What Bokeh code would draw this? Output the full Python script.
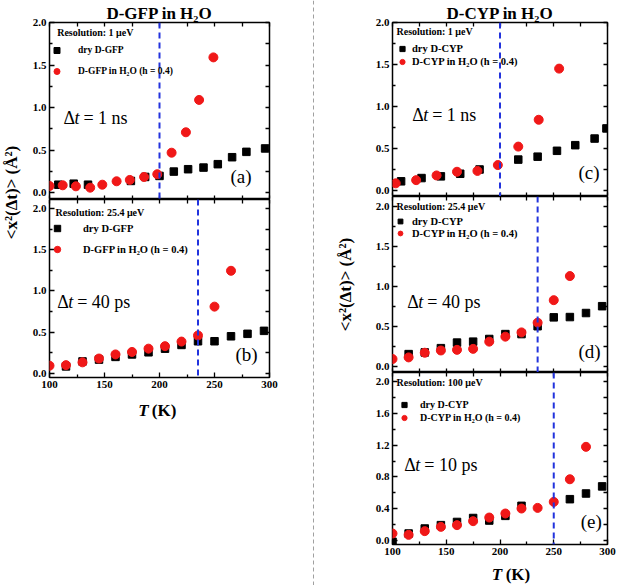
import numpy as np
from bokeh.plotting import figure
from bokeh.models import (Range1d, LinearAxis, FixedTicker, PrintfTickFormatter, Span,
                          Label, Legend, LegendItem)
from bokeh.layouts import row, column
from bokeh.embed import file_html
from bokeh.resources import INLINE
from bokeh.core.properties import value

FONT = "Liberation Serif"
RED = "#f01818"
BLUE = "#2233dd"

# ---------------- data ----------------
x_ticks = [100, 150, 200, 250, 300]
x_minor = [125, 175, 225, 275]
y_ticks_std = [0.0, 0.5, 1.0, 1.5, 2.0]
y_minor_std = [0.25, 0.75, 1.25, 1.75]
y_ticks_e = [0.0, 0.4, 0.8, 1.2, 1.6, 2.0]
y_minor_e = [0.2, 0.6, 1.0, 1.4, 1.8]

# (a) D-GFP, 1 ns
a_dry_T = [108, 122, 135, 174, 187, 200, 213, 226, 240, 253, 266, 279, 296]
a_dry_y = [0.094, 0.106, 0.094, 0.138, 0.185, 0.197, 0.248, 0.276, 0.295, 0.335, 0.417, 0.48, 0.52]
a_wet_T = [100, 112, 124, 137, 148, 161, 173, 186, 198, 211, 224, 236, 249]
a_wet_y = [0.079, 0.087, 0.075, 0.059, 0.094, 0.134, 0.15, 0.185, 0.217, 0.47, 0.71, 1.09, 1.59]

# (b) D-GFP, 40 ps
b_dry_T = [115, 130, 145, 160, 175, 190, 205, 220, 235, 250, 265, 280, 295]
b_dry_y = [0.085, 0.145, 0.167, 0.20, 0.23, 0.256, 0.30, 0.345, 0.39, 0.39, 0.45, 0.48, 0.516]
b_wet_T = [100, 115, 130, 145, 160, 175, 190, 205, 220, 235, 250, 265]
b_wet_y = [0.093, 0.10, 0.134, 0.18, 0.23, 0.26, 0.30, 0.33, 0.386, 0.46, 0.81, 1.245]

# (c) D-CYP, 1 ns
c_dry_T = [108, 127, 145, 163, 181, 217, 235, 253, 270, 288, 299]
c_dry_y = [0.106, 0.145, 0.165, 0.196, 0.247, 0.365, 0.40, 0.47, 0.537, 0.616, 0.737]
c_wet_T = [103, 122, 141, 160, 179, 198, 217, 236, 255]
c_wet_y = [0.082, 0.12, 0.176, 0.22, 0.23, 0.30, 0.52, 0.84, 1.45]

# (d) D-CYP, 40 ps
d_dry_T = [115, 130, 145, 160, 175, 190, 205, 220, 235, 250, 265, 280, 295]
d_dry_y = [0.159, 0.18, 0.233, 0.302, 0.314, 0.347, 0.408, 0.408, 0.506, 0.616, 0.62, 0.67, 0.755]
d_wet_T = [100, 115, 130, 145, 160, 175, 190, 205, 220, 235, 250, 265]
d_wet_y = [0.098, 0.118, 0.176, 0.204, 0.212, 0.224, 0.314, 0.376, 0.429, 0.55, 0.83, 1.13]

# (e) D-CYP, 10 ps
e_dry_T = [100, 115, 130, 145, 160, 175, 190, 205, 220, 265, 280, 295]
e_dry_y = [-0.02, 0.084, 0.147, 0.19, 0.23, 0.28, 0.248, 0.307, 0.434, 0.518, 0.59, 0.68]
e_wet_T = [100, 115, 130, 145, 160, 175, 190, 205, 220, 235, 250, 265, 280]
e_wet_y = [0.084, 0.067, 0.114, 0.168, 0.19, 0.24, 0.286, 0.337, 0.40, 0.408, 0.484, 0.77, 1.18]

transition_T = {"a": 200, "b": 235, "c": 200, "d": 235, "e": 250}

gfp_labels = ["dry D-GFP", "D-GFP in H\u2082O (h = 0.4)"]
cyp_labels = ["dry D-CYP", "D-CYP in H\u2082O (h = 0.4)"]
titles = ["D-GFP in H\u2082O", "D-CYP in H\u2082O"]


def blank(w, h, xr, yr):
    f = figure(width=w, height=h, x_range=Range1d(*xr), y_range=Range1d(*yr),
               output_backend="svg", toolbar_location=None,
               x_axis_location=None, y_axis_location=None, min_border=0,
               outline_line_color=None, background_fill_color="white",
               border_fill_color="white")
    f.grid.visible = False
    return f


def txt(f, x, y, s, size, style="bold", align="center", angle=0.0):
    f.text(x=[x], y=[y], text=[s], angle=angle, text_font=value(FONT),
           text_font_style=style, text_font_size=size, text_align=align,
           text_baseline="middle", text_color="black")


def lab(p, x, y, s, size, style="normal", x_offset=0):
    p.add_layout(Label(x=x, y=y, x_offset=x_offset, text=s, text_font=FONT,
                       text_font_style=style, text_font_size=size,
                       text_baseline="middle", text_align="left", text_color="black"))


def make_panel(width, height, ml, mr, mt, mb, yr, yticks, yminor, dryT, dryY, wetT, wetY,
               vline, labels, legcfg, res, dt, tag, xlabels, title=None):
    kw = {}
    if title:
        kw["title"] = title
    p = figure(width=width, height=height, x_range=Range1d(100, 300), y_range=Range1d(*yr),
               output_backend="svg", toolbar_location=None,
               x_axis_location=None, y_axis_location=None,
               min_border_left=ml, min_border_right=mr, min_border_top=mt,
               min_border_bottom=mb, outline_line_color="black", outline_line_width=1.5,
               background_fill_color="white", border_fill_color="white", **kw)
    if title:
        p.title.align = "center"
        p.title.text_font = FONT
        p.title.text_font_style = "bold"
        p.title.text_font_size = "17px"
        p.title.text_color = "black"
        p.title.standoff = 0
    p.grid.visible = False
    for place in ["left", "right", "below", "above"]:
        labelled = (place == "left") or (place == "below" and xlabels)
        if place in ("left", "right"):
            major, minor = yticks, yminor
        else:
            major, minor = x_ticks, x_minor
        if labelled:
            tk = FixedTicker(ticks=major, minor_ticks=minor)
        else:
            tk = FixedTicker(ticks=[], minor_ticks=sorted(major + minor))
        ax = LinearAxis(ticker=tk, axis_line_color=None, major_tick_in=5, major_tick_out=0,
                        minor_tick_in=4 if not labelled else 3, minor_tick_out=0,
                        major_tick_line_width=1.3, minor_tick_line_width=1.3,
                        major_tick_line_color="black", minor_tick_line_color="black",
                        major_label_standoff=3 if labelled else 0)
        if labelled:
            ax.formatter = PrintfTickFormatter(format="%.1f" if place == "left" else "%d")
            ax.major_label_text_font = FONT
            ax.major_label_text_font_style = "bold"
            ax.major_label_text_font_size = "11px"
            ax.major_label_text_color = "black"
        p.add_layout(ax, place)

    r1 = p.scatter(dryT, dryY, marker="square", size=7.5, fill_color="black", line_color="black")
    r2 = p.scatter(wetT, wetY, marker="circle", size=9, fill_color=RED, line_color=RED)
    p.add_layout(Span(location=vline, dimension="height", line_color=BLUE,
                      line_dash="6 4", line_width=2))

    gw, gh, ls, lt, sp, fs = legcfg
    frame_h = height - mb - mt
    vy = frame_h - lt - (2 * gh + sp)
    leg = Legend(items=[LegendItem(label=labels[0], renderers=[r1]),
                        LegendItem(label=labels[1], renderers=[r2])],
                 location=(0, vy), padding=0, margin=0, spacing=sp,
                 glyph_width=gw, glyph_height=gh, label_height=gh, label_standoff=ls,
                 label_text_font=FONT, label_text_font_style="bold",
                 label_text_font_size=fs, label_text_color="black",
                 background_fill_alpha=0, border_line_color=None)
    p.add_layout(leg)

    lab(p, res[0], res[1], res[2], "10px", "bold")
    lab(p, dt[0], dt[1], "\u0394", "18px")
    lab(p, dt[0], dt[1], "t", "18px", "italic", x_offset=11)
    lab(p, dt[0], dt[1], dt[2], "18px", x_offset=20)
    lab(p, tag[0], tag[1], tag[2], "19px")
    return p


# ---------------- left column ----------------
figA = make_panel(286, 199, 27, 39, 22, 0, (-0.08, 2.0), y_ticks_std, y_minor_std,
                  a_dry_T, a_dry_y, a_wet_T, a_wet_y, transition_T["a"], gfp_labels,
                  (15, 20, 14, 18, 1, "9.5px"), (107, 1.878, "Resolution: 1 \u03bceV"),
                  (112.7, 0.874, "= 1 ns"), (264.5, 0.186, "(a)"), False, titles[0])
figB = make_panel(286, 196, 27, 39, 0, 18, (-0.05, 2.11), y_ticks_std, y_minor_std,
                  b_dry_T, b_dry_y, b_wet_T, b_wet_y, transition_T["b"], gfp_labels,
                  (16, 20, 18, 19, 1, "10.5px"), (105.5, 1.947, "Resolution: 25.4 \u03bceV"),
                  (107, 0.865, "= 40 ps"), (269, 0.23, "(b)"), True)

footL = blank(286, 190, (0, 286), (190, 0))
txt(footL, 129, 15, "T", "17px", "bold italic", "right")
txt(footL, 133, 15, "(K)", "17px", "bold", "left")

labL = blank(22, 585, (0, 22), (585, 0))
txt(labL, 11, 192, "<x\u00b2(\u0394t)> (\u00c5\u00b2)", "17px", "bold", "center", np.pi / 2)

sep = blank(10, 585, (0, 1), (0, 1))
sep.add_layout(Span(location=0.5, dimension="height", line_color="#a0a0a0",
                    line_dash="4 3", line_width=1))

# ---------------- right column ----------------
figC = make_panel(245, 196, 20, 10, 22, 0, (-0.075, 2.0), y_ticks_std, y_minor_std,
                  c_dry_T, c_dry_y, c_wet_T, c_wet_y, transition_T["c"], cyp_labels,
                  (20, 13, 0, 20, 0, "10.5px"), (103.7, 1.887, "Resolution: 1 \u03bceV"),
                  (118.3, 0.894, "= 1 ns"), (273, 0.21, "(c)"), False, titles[1])
figD = make_panel(245, 176, 20, 10, 0, 0, (-0.07, 2.12), y_ticks_std, y_minor_std,
                  d_dry_T, d_dry_y, d_wet_T, d_wet_y, transition_T["d"], cyp_labels,
                  (16, 12, 4, 19, 0, "10.5px"), (103.7, 2.0, "Resolution: 25.4 \u03bceV"),
                  (113.7, 0.813, "= 40 ps"), (273, 0.193, "(d)"), False)
figE = make_panel(245, 190, 20, 10, 0, 18, (-0.055, 2.12), y_ticks_e, y_minor_e,
                  e_dry_T, e_dry_y, e_wet_T, e_wet_y, transition_T["e"], cyp_labels,
                  (24, 13, 4, 26, 0, "10px"), (103.7, 1.99, "Resolution: 100 \u03bceV"),
                  (111, 0.948, "= 10 ps"), (275, 0.232, "(e)"), True)

footR = blank(245, 23, (0, 245), (23, 0))
txt(footR, 125, 12, "T", "17px", "bold italic", "right")
txt(footR, 129, 12, "(K)", "17px", "bold", "left")

labR = blank(54, 585, (0, 54), (585, 0))
txt(labR, 27, 284, "<x\u00b2(\u0394t)> (\u00c5\u00b2)", "17px", "bold", "center", np.pi / 2)

left_col = column(figA, figB, footL)
right_col = column(figC, figD, figE, footR)
layout = row(labL, left_col, sep, labR, right_col)

open("out.html", "w").write(file_html(layout, INLINE))
